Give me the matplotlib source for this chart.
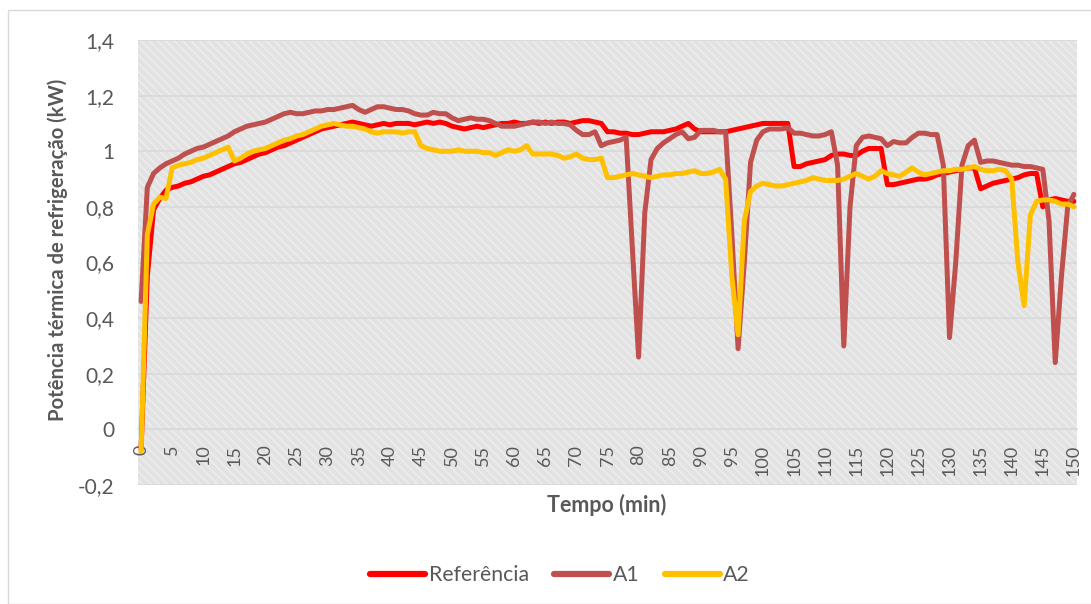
import matplotlib.pyplot as plt
from matplotlib.patches import Rectangle
from matplotlib.ticker import FixedLocator, FuncFormatter
import numpy as np

plt.rcParams['font.family'] = ['Lato', 'DejaVu Sans']
plt.rcParams['hatch.linewidth'] = 1.2

# tempo (min), um valor por minuto
tempo = list(range(151))

referencia = [
    -0.07, 0.55, 0.79, 0.83, 0.86, 0.87, 0.875, 0.885, 0.89, 0.90,
    0.91, 0.915, 0.925, 0.935, 0.945, 0.955, 0.96, 0.97, 0.98, 0.99,
    0.995, 1.005, 1.015, 1.02, 1.03, 1.04, 1.05, 1.06, 1.07, 1.08,
    1.085, 1.09, 1.095, 1.10, 1.105, 1.10, 1.095, 1.09, 1.095, 1.10,
    1.095, 1.10, 1.10, 1.10, 1.095, 1.10, 1.105, 1.10, 1.105, 1.10,
    1.09, 1.085, 1.08, 1.085, 1.09, 1.085, 1.09, 1.095, 1.10, 1.10,
    1.105, 1.10, 1.10, 1.105, 1.10, 1.105, 1.10, 1.105, 1.105, 1.10,
    1.105, 1.11, 1.11, 1.105, 1.10, 1.07, 1.07, 1.065, 1.065, 1.06,
    1.06, 1.065, 1.07, 1.07, 1.07, 1.075, 1.08, 1.09, 1.10, 1.08,
    1.07, 1.07, 1.07, 1.07, 1.07, 1.075, 1.08, 1.085, 1.09, 1.095,
    1.10, 1.10, 1.10, 1.10, 1.10, 0.945, 0.945, 0.955, 0.96, 0.965,
    0.97, 0.985, 0.99, 0.99, 0.985, 0.985, 1.0, 1.01, 1.01, 1.01,
    0.88, 0.88, 0.885, 0.89, 0.895, 0.90, 0.90, 0.905, 0.915, 0.92,
    0.925, 0.93, 0.935, 0.94, 0.94, 0.865, 0.875, 0.885, 0.89, 0.895,
    0.90, 0.905, 0.915, 0.92, 0.92, 0.80, 0.825, 0.83, 0.825, 0.82,
    0.82,
]

a1 = [
    0.46, 0.87, 0.92, 0.94, 0.955, 0.965, 0.975, 0.99, 1.0, 1.01,
    1.015, 1.025, 1.035, 1.045, 1.055, 1.07, 1.08, 1.09, 1.095, 1.10,
    1.105, 1.115, 1.125, 1.135, 1.14, 1.135, 1.135, 1.14, 1.145, 1.145,
    1.15, 1.15, 1.155, 1.16, 1.165, 1.15, 1.14, 1.15, 1.16, 1.16,
    1.155, 1.15, 1.15, 1.145, 1.135, 1.13, 1.13, 1.14, 1.135, 1.135,
    1.12, 1.11, 1.115, 1.12, 1.115, 1.115, 1.11, 1.10, 1.09, 1.09,
    1.09, 1.095, 1.10, 1.105, 1.105, 1.10, 1.105, 1.10, 1.10, 1.095,
    1.075, 1.06, 1.06, 1.07, 1.02, 1.03, 1.035, 1.04, 1.05, 0.65,
    0.26, 0.78, 0.97, 1.01, 1.03, 1.045, 1.06, 1.07, 1.045, 1.05,
    1.075, 1.075, 1.075, 1.07, 1.07, 0.70, 0.29, 0.60, 0.96, 1.04,
    1.07, 1.08, 1.08, 1.08, 1.085, 1.065, 1.065, 1.06, 1.055, 1.055,
    1.06, 1.07, 0.95, 0.30, 0.80, 1.02, 1.05, 1.055, 1.05, 1.045,
    1.02, 1.035, 1.03, 1.03, 1.05, 1.065, 1.065, 1.06, 1.06, 0.95,
    0.33, 0.60, 0.95, 1.02, 1.04, 0.96, 0.965, 0.965, 0.96, 0.955,
    0.95, 0.95, 0.945, 0.945, 0.94, 0.935, 0.75, 0.24, 0.55, 0.80,
    0.845,
]

a2 = [
    -0.08, 0.70, 0.81, 0.835, 0.83, 0.94, 0.95, 0.955, 0.96, 0.97,
    0.975, 0.985, 0.995, 1.005, 1.015, 0.965, 0.975, 0.99, 1.0, 1.005,
    1.01, 1.02, 1.03, 1.04, 1.045, 1.055, 1.06, 1.07, 1.08, 1.09,
    1.095, 1.10, 1.095, 1.09, 1.09, 1.085, 1.08, 1.07, 1.065, 1.07,
    1.07, 1.07, 1.065, 1.07, 1.07, 1.02, 1.01, 1.005, 1.0, 1.0,
    1.0, 1.005, 1.0, 1.0, 1.0, 0.995, 0.995, 0.985, 0.995, 1.005,
    1.0, 1.005, 1.02, 0.99, 0.99, 0.99, 0.99, 0.985, 0.975, 0.98,
    0.99, 0.975, 0.97, 0.97, 0.975, 0.905, 0.905, 0.91, 0.915, 0.92,
    0.915, 0.91, 0.905, 0.91, 0.915, 0.915, 0.92, 0.92, 0.925, 0.93,
    0.92, 0.92, 0.925, 0.935, 0.90, 0.55, 0.34, 0.75, 0.855, 0.875,
    0.885, 0.88, 0.875, 0.875, 0.88, 0.885, 0.89, 0.895, 0.905, 0.90,
    0.895, 0.895, 0.895, 0.90, 0.91, 0.92, 0.91, 0.90, 0.91, 0.93,
    0.92, 0.915, 0.91, 0.925, 0.94, 0.925, 0.915, 0.92, 0.925, 0.93,
    0.93, 0.935, 0.935, 0.94, 0.945, 0.935, 0.93, 0.93, 0.935, 0.93,
    0.90, 0.60, 0.445, 0.77, 0.82, 0.825, 0.825, 0.82, 0.81, 0.81,
    0.80,
]

x_ticks = list(range(0, 151, 5))
y_ticks = [-0.2, 0, 0.2, 0.4, 0.6, 0.8, 1.0, 1.2, 1.4]

fig = plt.figure(figsize=(10.91, 6.04), dpi=100)
# borda do gráfico (Excel)
fig.patches.append(Rectangle((8 / 1091, 0), 1.0, 1 - 10 / 604, transform=fig.transFigure,
                             facecolor='none', edgecolor='#d9d9d9', linewidth=1))

ax = fig.add_axes([138 / 1091, 1 - 485 / 604, (1077 - 138) / 1091, (485 - 40) / 604])
ax.set_facecolor('#e2e2e2')
ax.add_patch(Rectangle((0, 0), 1, 1, transform=ax.transAxes, facecolor='none',
                       edgecolor='#ededed', linewidth=0, hatch='\\\\\\\\', zorder=0))

ax.set_xlim(-0.5, 150.5)
ax.set_ylim(-0.2, 1.4)
ax.yaxis.set_major_locator(FixedLocator(y_ticks))
ax.grid(axis='y', color='#d9d9d9', linewidth=1.2, zorder=1)
ax.set_axisbelow(True)

ax.plot(tempo, referencia, color='#ff0000', lw=3.6, solid_joinstyle='round',
        solid_capstyle='round', label='Referência', zorder=3)
ax.plot(tempo, a1, color='#c0504d', lw=3.6, solid_joinstyle='round',
        solid_capstyle='round', label='A1', zorder=4)
ax.plot(tempo, a2, color='#ffc000', lw=3.6, solid_joinstyle='round',
        solid_capstyle='round', label='A2', zorder=5)

for s in ['top', 'right', 'left']:
    ax.spines[s].set_visible(False)
ax.spines['bottom'].set_position(('data', 0))
ax.spines['bottom'].set_color('#d9d9d9')
ax.spines['bottom'].set_linewidth(1.2)

ax.set_xticks(x_ticks)
ax.set_xticklabels([str(v) for v in x_ticks], rotation=90, va='top', ha='center')
ax.tick_params(axis='x', length=0, pad=11, labelsize=13, labelcolor='#595959')
ax.tick_params(axis='y', length=0, pad=17, labelsize=15, labelcolor='#595959')
ax.yaxis.set_major_formatter(FuncFormatter(lambda v, p: ('%g' % round(v, 1)).replace('.', ',')))

fig.text(58 / 1091, 1 - 250 / 604, 'Potência térmica de refrigeração (kW)', rotation=90,
         ha='center', va='center', fontsize=14.6, fontweight='bold', color='#595959')
fig.text(607 / 1091, 1 - 505 / 604, 'Tempo (min)', ha='center', va='center',
         fontsize=15.5, fontweight='bold', color='#595959')

leg = fig.legend(loc='center', bbox_to_anchor=(560 / 1091, 1 - 575 / 604), ncol=3,
                 frameon=False, fontsize=15.3, handlelength=2.6, handletextpad=0.15,
                 columnspacing=1.2, labelcolor='#595959')
for h in leg.get_lines():
    h.set_linewidth(4.5)

fig.savefig('out.png', dpi=100)
